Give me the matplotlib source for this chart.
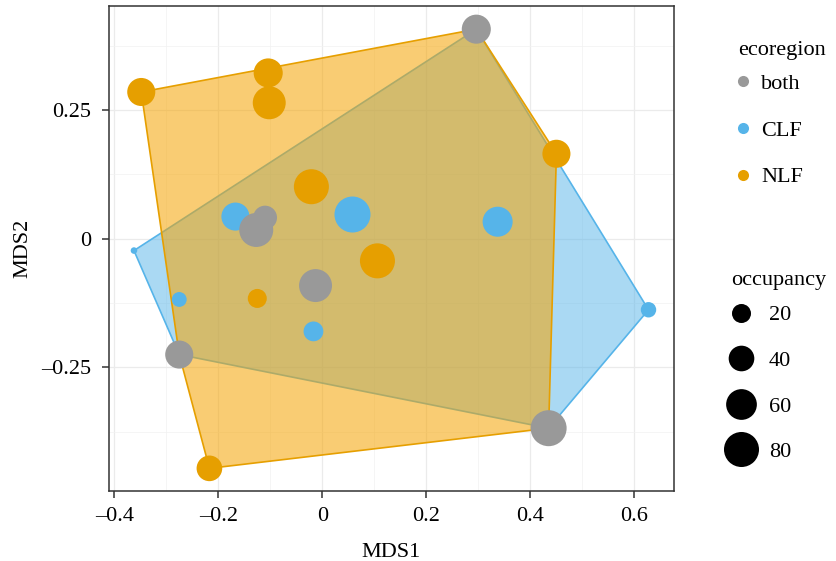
import matplotlib
matplotlib.use("Agg")
import matplotlib.pyplot as plt
from matplotlib.lines import Line2D
from matplotlib.patches import Polygon
import numpy as np

plt.rcParams["font.family"] = ["Liberation Serif", "DejaVu Serif"]
plt.rcParams["font.size"] = 16

# ---- Data (MDS ordination) ----
both_x = [0.296, -0.110, -0.127, -0.013, -0.275, 0.435]
both_y = [0.407, 0.041, 0.017, -0.091, -0.225, -0.368]
both_occ = [53, 34, 75, 70, 49, 85]

clf_x = [-0.362, -0.167, 0.058, 0.337, -0.275, -0.017, 0.627]
clf_y = [-0.023, 0.043, 0.047, 0.033, -0.118, -0.180, -0.138]
clf_occ = [1, 49, 85, 57, 11, 22, 12]

nlf_x = [-0.348, -0.104, -0.102, 0.450, -0.021, 0.106, -0.125, -0.217]
nlf_y = [0.285, 0.322, 0.264, 0.165, 0.101, -0.043, -0.116, -0.446]
nlf_occ = [49, 53, 70, 49, 80, 80, 20, 40]

size_breaks = [20, 40, 60, 80]

GREY = "#999999"
BLUE = "#56B4E9"
ORANGE = "#E69F00"
ORANGE_FILL = "#F5A300"


def diam_pt(occ):
    # diameter in points, ggplot-like sqrt scaling
    return 0.72 * (3.0 + 3.58 * np.sqrt(np.asarray(occ, dtype=float)))


def hull(xs, ys):
    pts = sorted(set(zip(xs, ys)))

    def cross(o, a, b):
        return (a[0] - o[0]) * (b[1] - o[1]) - (a[1] - o[1]) * (b[0] - o[0])

    lower, upper = [], []
    for p in pts:
        while len(lower) >= 2 and cross(lower[-2], lower[-1], p) <= 0:
            lower.pop()
        lower.append(p)
    for p in reversed(pts):
        while len(upper) >= 2 and cross(upper[-2], upper[-1], p) <= 0:
            upper.pop()
        upper.append(p)
    return lower[:-1] + upper[:-1]


fig = plt.figure(figsize=(8.37, 5.61), dpi=100)
ax = fig.add_axes([109 / 837, 1 - 491 / 561, 565 / 837, 485 / 561])

# hulls: each region together with the shared ("both") sites
clf_hull = hull(clf_x + both_x, clf_y + both_y)
nlf_hull = hull(nlf_x + both_x, nlf_y + both_y)
ax.add_patch(Polygon(clf_hull, closed=True, facecolor=BLUE, alpha=0.5,
                     edgecolor="none", zorder=1))
ax.add_patch(Polygon(clf_hull, closed=True, facecolor="none",
                     edgecolor=BLUE, linewidth=1.2, zorder=1))
ax.add_patch(Polygon(nlf_hull, closed=True, facecolor=ORANGE_FILL, alpha=0.55,
                     edgecolor="none", zorder=2))
ax.add_patch(Polygon(nlf_hull, closed=True, facecolor="none",
                     edgecolor=ORANGE, linewidth=1.2, zorder=2))

ax.scatter(clf_x, clf_y, s=diam_pt(clf_occ) ** 2, color=BLUE, edgecolors="none", zorder=3)
ax.scatter(nlf_x, nlf_y, s=diam_pt(nlf_occ) ** 2, color=ORANGE, edgecolors="none", zorder=3)
ax.scatter(both_x, both_y, s=diam_pt(both_occ) ** 2, color=GREY, edgecolors="none", zorder=4)

ax.set_xlim(-0.41, 0.676)
ax.set_ylim(-0.49, 0.452)

xt = [-0.4, -0.2, 0, 0.2, 0.4, 0.6]
yt = [-0.25, 0, 0.25]
ax.set_xticks(xt, ["–0.4", "–0.2", "0", "0.2", "0.4", "0.6"])
ax.set_yticks(yt, ["–0.25", "0", "0.25"])
ax.set_xticks([-0.3, -0.1, 0.1, 0.3, 0.5], minor=True)
ax.set_yticks([-0.375, -0.125, 0.125, 0.375], minor=True)
ax.tick_params(which="major", length=5, width=1.1, color="#333333", labelsize=16)
ax.tick_params(axis="x", which="major", pad=6.5)
ax.tick_params(axis="y", which="major", pad=8)
ax.tick_params(which="minor", length=0)
ax.grid(True, which="major", color="#EBEBEB", linewidth=0.9, zorder=0)
ax.grid(True, which="minor", color="#F2F2F2", linewidth=0.5, zorder=0)
ax.set_axisbelow(True)
for sp in ax.spines.values():
    sp.set_color("#333333")
    sp.set_linewidth(1.1)

ax.set_xlabel("MDS1", fontsize=16, labelpad=12)
ax.set_ylabel("MDS2", fontsize=16, labelpad=6)

# ---- Legends (titles set as separate text for ggplot-like spacing) ----
eco_handles = [Line2D([], [], linestyle="none", marker="o", markersize=8,
                      markerfacecolor=c, markeredgecolor="none")
               for c in (GREY, BLUE, ORANGE)]
fig.text(738 / 837, 1 - 50 / 561, "ecoregion", ha="left", va="center", fontsize=16)
fig.legend(eco_handles, ["both", "CLF", "NLF"],
           loc="center left", bbox_to_anchor=(738 / 837, 1 - 130.5 / 561),
           frameon=False, borderpad=0, borderaxespad=0,
           handlelength=0.45, handletextpad=0.6, labelspacing=1.17, fontsize=16)

occ_handles = [Line2D([], [], linestyle="none", marker="o", markersize=d,
                      markerfacecolor="black", markeredgecolor="none")
               for d in diam_pt(size_breaks)]
fig.text(731 / 837, 1 - 281 / 561, "occupancy", ha="left", va="center", fontsize=16)
fig.legend(occ_handles, [str(v) for v in size_breaks],
           loc="center left", bbox_to_anchor=(731 / 837, 1 - 383.5 / 561),
           frameon=False, borderpad=0, borderaxespad=0,
           handlelength=0.9, handletextpad=0.8, labelspacing=1.13, fontsize=16)

fig.savefig("out.png", dpi=100, facecolor="white")
